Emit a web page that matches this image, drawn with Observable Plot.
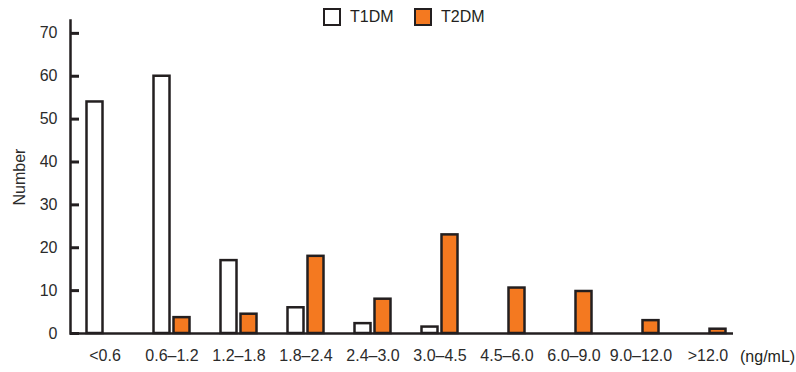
<!DOCTYPE html>
<html><head><meta charset="utf-8">
<script src="https://cdn.jsdelivr.net/npm/d3@7"></script>
<script src="https://cdn.jsdelivr.net/npm/@observablehq/plot@0.6"></script>
<style>
body{margin:0;background:#fff;font-family:"Liberation Sans",Arial,sans-serif;}
#wrap{position:relative;width:796px;height:372px;overflow:hidden;}
.leg{position:absolute;top:8px;height:18px;font-size:16px;line-height:18px;color:#231f20;display:flex;align-items:center;}
.sw{box-sizing:border-box;width:18px;height:18px;border:2.5px solid #231f20;margin-right:9px;}
.unit{position:absolute;left:740px;top:347px;font-size:16px;line-height:20px;color:#231f20;}
</style></head><body><div id="wrap"></div>
<script>
const categories = ["<0.6","0.6–1.2","1.2–1.8","1.8–2.4","2.4–3.0","3.0–4.5","4.5–6.0","6.0–9.0","9.0–12.0",">12.0"];
const t1dm = [54, 60, 17, 6, 2.3, 1.5, 0, 0, 0, 0];
const t2dm = [0, 3.7, 4.5, 18, 8, 23, 10.6, 9.8, 3, 1];
const seriesNames = ["T1DM", "T2DM"];
const seriesFills = ["#ffffff", "#f47920"];
const yTicks = [0, 10, 20, 30, 40, 50, 60, 70];
const unitLabel = "(ng/mL)";
const yLabel = "Number";

const data = [];
categories.forEach((c, i) => {
  data.push({category: c, series: "T1DM", value: t1dm[i]});
  data.push({category: c, series: "T2DM", value: t2dm[i]});
});

const ink = "#231f20";
const W = 796, ML = 70, MR = 63;
const chart = Plot.plot({
  width: W,
  height: 372,
  marginTop: 20,
  marginBottom: 39,
  marginLeft: ML,
  marginRight: MR,
  style: {fontFamily: "'Liberation Sans', Arial, sans-serif", fontSize: "16px", color: ink, background: "#fff"},
  x: {domain: categories, range: [70.5, 740.5], padding: 0},
  y: {domain: [0, 73]},
  marks: [
    Plot.barY(data.filter(d => d.series === "T1DM" && d.value > 0), {
      x: "category", y: "value", fill: seriesFills[0], stroke: ink, strokeWidth: 2.5,
      insetLeft: 15.5, insetRight: 35.5
    }),
    Plot.barY(data.filter(d => d.series === "T2DM" && d.value > 0), {
      x: "category", y: "value", fill: seriesFills[1], stroke: ink, strokeWidth: 2.5,
      insetLeft: 35.5, insetRight: 15.5
    }),
    Plot.ruleY([0], {stroke: ink, strokeWidth: 2.5}),
    Plot.frame({anchor: "left", stroke: ink, strokeWidth: 2.5}),
    Plot.ruleY(yTicks, {stroke: ink, strokeWidth: 3, strokeLinecap: "butt", insetRight: W - ML - MR - 9}),
    Plot.axisY({ticks: yTicks, tickSize: 0, tickPadding: 13, fontSize: 16, fill: "#2b2b2b",
      label: yLabel, labelAnchor: "center", labelArrow: "none", labelOffset: 57}),
    Plot.axisX({tickSize: 0, tickPadding: 16, fontSize: 16, fill: "#2b2b2b", label: null})
  ]
});

const wrap = document.getElementById("wrap");
wrap.appendChild(chart);
const legLeft = [323, 414];
seriesNames.forEach((s, i) => {
  const d = document.createElement("div");
  d.className = "leg";
  d.style.left = legLeft[i] + "px";
  d.innerHTML = `<span class="sw" style="background:${seriesFills[i]}"></span><span>${s}</span>`;
  wrap.appendChild(d);
});
const u = document.createElement("div");
u.className = "unit";
u.textContent = unitLabel;
wrap.appendChild(u);
</script></body></html>
